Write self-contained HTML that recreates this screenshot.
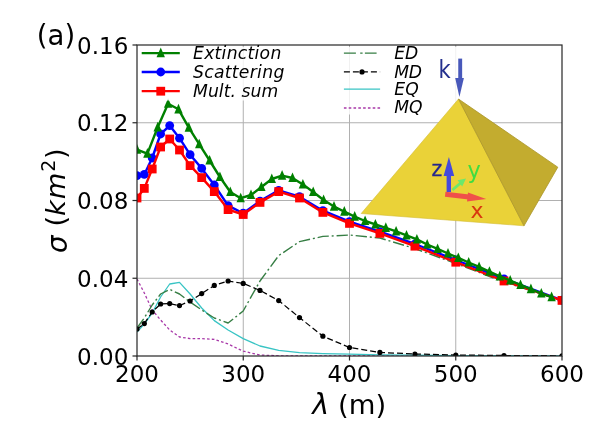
<!DOCTYPE html>
<html lang="en"><head><meta charset="utf-8"><title>Multipole decomposition (a)</title>
<style>html,body{margin:0;padding:0;background:#fff}body{width:600px;height:426px;overflow:hidden}svg{display:block}text{font-family:"DejaVu Sans","Liberation Sans",sans-serif;fill:#000}.i{font-style:italic}</style></head><body>
<svg width="600" height="426" viewBox="0 0 600 426">
<rect width="600" height="426" fill="#fff"/>
<defs><clipPath id="ax"><rect x="137.0" y="45.0" width="425.0" height="311.0"/></clipPath></defs>
<g stroke="#b0b0b0" stroke-width="1.0" fill="none">
<line x1="243.25" y1="45.0" x2="243.25" y2="356.0"/>
<line x1="349.50" y1="45.0" x2="349.50" y2="356.0"/>
<line x1="455.75" y1="45.0" x2="455.75" y2="356.0"/>
<line x1="137.0" y1="278.25" x2="562.0" y2="278.25"/>
<line x1="137.0" y1="200.50" x2="562.0" y2="200.50"/>
<line x1="137.0" y1="122.75" x2="562.0" y2="122.75"/>
</g>
<g clip-path="url(#ax)" fill="none" stroke-linejoin="round">
<polyline points="137.0,279.0 144.3,293.0 152.2,310.0 160.6,320.0 169.7,330.0 179.5,337.0 190.1,338.6 201.7,338.6 214.3,339.4 228.1,344.0 243.2,351.2 260.0,355.0 278.7,355.8 299.5,355.9 322.9,356.0 349.5,356.0 379.9,356.0 414.9,356.0 455.8,356.0 504.0,356.0 562.0,356.0" stroke="#a838a8" stroke-width="1.3" stroke-dasharray="2.6 2.2"/>
<polyline points="137.0,332.0 144.3,324.0 152.2,313.0 160.6,297.0 169.7,284.0 179.5,282.4 190.1,294.0 201.7,308.0 214.3,320.6 228.1,330.0 243.2,338.6 260.0,346.0 278.7,350.4 299.5,352.6 322.9,353.6 349.5,354.2 379.9,354.8 414.9,355.2 455.8,355.6 504.0,355.7 562.0,355.8" stroke="#38c4c4" stroke-width="1.3"/>
<polyline points="137.0,328.0 144.3,318.0 152.2,305.0 160.6,294.0 169.7,289.4 179.5,294.0 190.1,302.0 201.7,310.0 214.3,318.0 228.1,323.0 243.2,311.0 260.0,281.0 278.7,255.6 299.5,241.6 322.9,236.4 349.5,235.0 379.9,238.0 414.9,248.6 455.8,263.5 504.0,282.0 562.0,300.6" stroke="#367e44" stroke-width="1.4" stroke-dasharray="11.3 2.9 2 2.9"/>
<polyline points="137.0,329.0 144.3,323.6 152.2,312.0 160.6,304.0 169.7,303.6 179.5,305.6 190.1,301.0 201.7,293.6 214.3,285.4 228.1,281.0 243.2,283.4 260.0,290.4 278.7,300.6 299.5,317.6 322.9,336.2 349.5,347.5 379.9,352.4 414.9,354.0 455.8,355.0 504.0,355.5 562.0,355.8" stroke="#000" stroke-width="1.25" stroke-dasharray="6 3"/>
<g fill="#000" stroke="none"><circle cx="137.0" cy="329.0" r="2.6"/><circle cx="144.3" cy="323.6" r="2.6"/><circle cx="152.2" cy="312.0" r="2.6"/><circle cx="160.6" cy="304.0" r="2.6"/><circle cx="169.7" cy="303.6" r="2.6"/><circle cx="179.5" cy="305.6" r="2.6"/><circle cx="190.1" cy="301.0" r="2.6"/><circle cx="201.7" cy="293.6" r="2.6"/><circle cx="214.3" cy="285.4" r="2.6"/><circle cx="228.1" cy="281.0" r="2.6"/><circle cx="243.2" cy="283.4" r="2.6"/><circle cx="260.0" cy="290.4" r="2.6"/><circle cx="278.7" cy="300.6" r="2.6"/><circle cx="299.5" cy="317.6" r="2.6"/><circle cx="322.9" cy="336.2" r="2.6"/><circle cx="349.5" cy="347.5" r="2.6"/><circle cx="379.9" cy="352.4" r="2.6"/><circle cx="414.9" cy="354.0" r="2.6"/><circle cx="455.8" cy="355.0" r="2.6"/><circle cx="504.0" cy="355.5" r="2.6"/><circle cx="562.0" cy="355.8" r="2.6"/></g>
<polyline points="137.0,175.6 144.3,174.4 152.2,158.0 160.6,134.0 169.7,125.6 179.5,138.2 190.1,154.7 201.7,168.4 214.3,185.0 228.1,205.6 243.2,213.2 260.0,201.1 278.7,190.3 299.5,196.7 322.9,210.7 349.5,221.7 379.9,231.7 414.9,244.0 455.8,260.0 504.0,278.8 562.0,300.2" stroke="#0000ff" stroke-width="2.4"/>
<g fill="#0000ff" stroke="none"><circle cx="137.0" cy="175.6" r="4.4"/><circle cx="144.3" cy="174.4" r="4.4"/><circle cx="152.2" cy="158.0" r="4.4"/><circle cx="160.6" cy="134.0" r="4.4"/><circle cx="169.7" cy="125.6" r="4.4"/><circle cx="179.5" cy="138.2" r="4.4"/><circle cx="190.1" cy="154.7" r="4.4"/><circle cx="201.7" cy="168.4" r="4.4"/><circle cx="214.3" cy="185.0" r="4.4"/><circle cx="228.1" cy="205.6" r="4.4"/><circle cx="243.2" cy="213.2" r="4.4"/><circle cx="260.0" cy="201.1" r="4.4"/><circle cx="278.7" cy="190.3" r="4.4"/><circle cx="299.5" cy="196.7" r="4.4"/><circle cx="322.9" cy="210.7" r="4.4"/><circle cx="349.5" cy="221.7" r="4.4"/><circle cx="379.9" cy="231.7" r="4.4"/><circle cx="414.9" cy="244.0" r="4.4"/><circle cx="455.8" cy="260.0" r="4.4"/><circle cx="504.0" cy="278.8" r="4.4"/><circle cx="562.0" cy="300.2" r="4.4"/></g>
<polyline points="137.0,198.0 144.3,188.4 152.2,169.0 160.6,147.0 169.7,139.0 179.5,150.0 190.1,165.6 201.7,177.6 214.3,191.6 228.1,209.6 243.2,214.5 260.0,202.4 278.7,191.6 299.5,198.0 322.9,212.4 349.5,223.4 379.9,233.4 414.9,246.2 455.8,262.2 504.0,281.0 562.0,300.4" stroke="#ff0000" stroke-width="2.4"/>
<g fill="#ff0000" stroke="none"><rect x="132.6" y="193.6" width="8.8" height="8.8"/><rect x="139.9" y="184.0" width="8.8" height="8.8"/><rect x="147.8" y="164.6" width="8.8" height="8.8"/><rect x="156.2" y="142.6" width="8.8" height="8.8"/><rect x="165.3" y="134.6" width="8.8" height="8.8"/><rect x="175.1" y="145.6" width="8.8" height="8.8"/><rect x="185.7" y="161.2" width="8.8" height="8.8"/><rect x="197.3" y="173.2" width="8.8" height="8.8"/><rect x="209.9" y="187.2" width="8.8" height="8.8"/><rect x="223.7" y="205.2" width="8.8" height="8.8"/><rect x="238.8" y="210.1" width="8.8" height="8.8"/><rect x="255.6" y="198.0" width="8.8" height="8.8"/><rect x="274.3" y="187.2" width="8.8" height="8.8"/><rect x="295.1" y="193.6" width="8.8" height="8.8"/><rect x="318.5" y="208.0" width="8.8" height="8.8"/><rect x="345.1" y="219.0" width="8.8" height="8.8"/><rect x="375.5" y="229.0" width="8.8" height="8.8"/><rect x="410.5" y="241.8" width="8.8" height="8.8"/><rect x="451.4" y="257.8" width="8.8" height="8.8"/><rect x="499.6" y="276.6" width="8.8" height="8.8"/><rect x="557.6" y="296.0" width="8.8" height="8.8"/></g>
<polyline points="137.0,149.6 147.4,153.6 157.7,127.3 168.1,103.7 178.5,109.3 188.8,127.6 199.2,144.2 209.6,160.5 219.9,177.0 230.3,192.0 240.7,198.2 251.0,195.0 261.4,187.0 271.8,179.0 282.1,175.6 292.5,178.0 302.9,184.4 313.2,192.0 323.6,200.0 334.0,206.6 344.3,211.6 354.7,216.6 365.1,221.0 375.4,224.4 385.8,227.8 396.1,231.4 406.5,235.4 416.9,239.4 427.2,244.5 437.6,248.9 448.0,253.5 458.3,257.9 468.7,262.5 479.1,266.9 489.4,271.7 499.8,276.3 510.2,280.5 520.5,284.9 530.9,289.1 541.3,293.5 551.6,297.1" stroke="#008000" stroke-width="2.4"/>
<g fill="#008000" stroke="none"><path d="M137.0 144.1L141.2 153.7L132.8 153.7Z"/><path d="M147.4 148.1L151.6 157.7L143.2 157.7Z"/><path d="M157.7 121.8L161.9 131.4L153.5 131.4Z"/><path d="M168.1 98.2L172.3 107.8L163.9 107.8Z"/><path d="M178.5 103.8L182.7 113.4L174.3 113.4Z"/><path d="M188.8 122.1L193.0 131.7L184.6 131.7Z"/><path d="M199.2 138.7L203.4 148.3L195.0 148.3Z"/><path d="M209.6 155.0L213.8 164.6L205.4 164.6Z"/><path d="M219.9 171.5L224.1 181.1L215.7 181.1Z"/><path d="M230.3 186.5L234.5 196.1L226.1 196.1Z"/><path d="M240.7 192.7L244.9 202.3L236.5 202.3Z"/><path d="M251.0 189.5L255.2 199.1L246.8 199.1Z"/><path d="M261.4 181.5L265.6 191.1L257.2 191.1Z"/><path d="M271.8 173.5L276.0 183.1L267.6 183.1Z"/><path d="M282.1 170.1L286.3 179.7L277.9 179.7Z"/><path d="M292.5 172.5L296.7 182.1L288.3 182.1Z"/><path d="M302.9 178.9L307.1 188.5L298.7 188.5Z"/><path d="M313.2 186.5L317.4 196.1L309.0 196.1Z"/><path d="M323.6 194.5L327.8 204.1L319.4 204.1Z"/><path d="M334.0 201.1L338.2 210.7L329.8 210.7Z"/><path d="M344.3 206.1L348.5 215.7L340.1 215.7Z"/><path d="M354.7 211.1L358.9 220.7L350.5 220.7Z"/><path d="M365.1 215.5L369.3 225.1L360.9 225.1Z"/><path d="M375.4 218.9L379.6 228.5L371.2 228.5Z"/><path d="M385.8 222.3L390.0 231.9L381.6 231.9Z"/><path d="M396.1 225.9L400.3 235.5L391.9 235.5Z"/><path d="M406.5 229.9L410.7 239.5L402.3 239.5Z"/><path d="M416.9 233.9L421.1 243.5L412.7 243.5Z"/><path d="M427.2 239.0L431.4 248.6L423.0 248.6Z"/><path d="M437.6 243.4L441.8 253.0L433.4 253.0Z"/><path d="M448.0 248.0L452.2 257.6L443.8 257.6Z"/><path d="M458.3 252.4L462.5 262.0L454.1 262.0Z"/><path d="M468.7 257.0L472.9 266.6L464.5 266.6Z"/><path d="M479.1 261.4L483.3 271.0L474.9 271.0Z"/><path d="M489.4 266.2L493.6 275.8L485.2 275.8Z"/><path d="M499.8 270.8L504.0 280.4L495.6 280.4Z"/><path d="M510.2 275.0L514.4 284.6L506.0 284.6Z"/><path d="M520.5 279.4L524.7 289.0L516.3 289.0Z"/><path d="M530.9 283.6L535.1 293.2L526.7 293.2Z"/><path d="M541.3 288.0L545.5 297.6L537.1 297.6Z"/><path d="M551.6 291.6L555.8 301.2L547.4 301.2Z"/></g>
</g>
<rect x="137.0" y="45.0" width="425.0" height="311.0" stroke="#262626" stroke-width="1.2" fill="none"/>
<rect x="138" y="47" width="160" height="53.5" fill="#fff" fill-opacity="0.82"/>
<rect x="338" y="47" width="137" height="67.5" fill="#fff" fill-opacity="0.82"/>
<line x1="141.7" y1="53.1" x2="179.8" y2="53.1" stroke="#008000" stroke-width="2.3"/>
<path d="M160.75 47.6L164.95 57.2L156.55 57.2Z" fill="#008000"/>
<text class="i" x="193.0" y="59.4" font-size="17.2" textLength="88.3" lengthAdjust="spacing">Extinction</text>
<line x1="141.7" y1="72.0" x2="179.8" y2="72.0" stroke="#0000ff" stroke-width="2.3"/>
<circle cx="160.75" cy="72.0" r="4.4" fill="#0000ff"/>
<text class="i" x="193.0" y="78.1" font-size="17.2" textLength="91.3" lengthAdjust="spacing">Scattering</text>
<line x1="141.7" y1="91.2" x2="179.8" y2="91.2" stroke="#ff0000" stroke-width="2.3"/>
<rect x="156.35" y="86.8" width="8.8" height="8.8" fill="#ff0000"/>
<text class="i" x="193.0" y="97.1" font-size="17.2" textLength="85.2" lengthAdjust="spacing">Mult. sum</text>
<line x1="343.9" y1="53.1" x2="380.1" y2="53.1" stroke="#367e44" stroke-width="1.4" stroke-dasharray="12 4.3 2.4 2.3 11.7 100"/>
<text class="i" x="394.3" y="59.3" font-size="17.2" textLength="24.0" lengthAdjust="spacing">ED</text>
<line x1="343.9" y1="71.9" x2="380.1" y2="71.9" stroke="#000" stroke-width="1.25" stroke-dasharray="6 3"/>
<circle cx="362.0" cy="71.9" r="2.6" fill="#000"/>
<text class="i" x="394.3" y="78.1" font-size="17.2" textLength="27.6" lengthAdjust="spacing">MD</text>
<line x1="343.9" y1="89.2" x2="380.1" y2="89.2" stroke="#38c4c4" stroke-width="1.3"/>
<text class="i" x="394.3" y="94.7" font-size="17.2" textLength="24.5" lengthAdjust="spacing">EQ</text>
<line x1="343.9" y1="108.0" x2="380.1" y2="108.0" stroke="#a838a8" stroke-width="1.3" stroke-dasharray="2.6 2.2"/>
<text class="i" x="394.3" y="113.2" font-size="17.2" textLength="28.3" lengthAdjust="spacing">MQ</text>
<g>
<path d="M458.5 99L361.2 213.5L524 225.8Z" fill="#ead238" stroke="#d4bc34" stroke-width="0.6" stroke-linejoin="round"/>
<path d="M458.5 99L524 225.8L557.8 167.2Z" fill="#c3ac2f" stroke="#ab962a" stroke-width="0.8" stroke-linejoin="round"/>
<path d="M460.2 58.6v20.4" stroke="#4858ba" stroke-width="3.9" fill="none"/>
<path d="M455.2 78h8.7L459.4 97Z" fill="#4858ba"/>
<text transform="translate(438.6 77.8) scale(1 1.14)" font-size="21" style="fill:#24308e">k</text>
<path d="M448.8 192V174.5" stroke="#4549dc" stroke-width="4.4" fill="none"/>
<path d="M443.6 176h10.6L448.9 157Z" fill="#4549dc"/>
<path d="M445.2 194.3L469 197" stroke="#f0504a" stroke-width="5" fill="none"/>
<path d="M468 192.6L486.2 199L467 201.4Z" fill="#f0504a"/>
<path d="M452.4 190L461.5 182.3" stroke="#6ce86c" stroke-width="2.8" fill="none"/>
<path d="M457.6 180.3L466 178.4L462.2 186.6Z" fill="#6ce86c"/>
<text x="431.5" y="176.2" font-size="20.5" style="fill:#26288c;stroke:#26288c;stroke-width:0.3">z</text>
<text x="470.4" y="217.6" font-size="22" style="fill:#d8380f">x</text>
<text x="467.4" y="177.6" font-size="22.5" style="fill:#40dc40">y</text>
</g>

<g stroke="#262626" stroke-width="1.2" fill="none">
<line x1="137.00" y1="356.0" x2="137.00" y2="360.5"/>
<line x1="243.25" y1="356.0" x2="243.25" y2="360.5"/>
<line x1="349.50" y1="356.0" x2="349.50" y2="360.5"/>
<line x1="455.75" y1="356.0" x2="455.75" y2="360.5"/>
<line x1="562.00" y1="356.0" x2="562.00" y2="360.5"/>
<line x1="137.0" y1="356.00" x2="132.5" y2="356.00"/>
<line x1="137.0" y1="278.25" x2="132.5" y2="278.25"/>
<line x1="137.0" y1="200.50" x2="132.5" y2="200.50"/>
<line x1="137.0" y1="122.75" x2="132.5" y2="122.75"/>
<line x1="137.0" y1="45.00" x2="132.5" y2="45.00"/>
</g>
<g font-size="23">
<text x="137.00" y="382.4" text-anchor="middle">200</text>
<text x="243.25" y="382.4" text-anchor="middle">300</text>
<text x="349.50" y="382.4" text-anchor="middle">400</text>
<text x="455.75" y="382.4" text-anchor="middle">500</text>
<text x="562.00" y="382.4" text-anchor="middle">600</text>
<text x="128.3" y="364.70" text-anchor="end">0.00</text>
<text x="128.3" y="286.95" text-anchor="end">0.04</text>
<text x="128.3" y="209.20" text-anchor="end">0.08</text>
<text x="128.3" y="131.45" text-anchor="end">0.12</text>
<text x="128.3" y="53.70" text-anchor="end">0.16</text>
</g>
<text x="312.2" y="413.6" font-size="27.4"><tspan class="i" font-size="28.6">λ</tspan><tspan dx="0.2"> (m)</tspan></text>
<text transform="translate(65.4 253.1) rotate(-90)" font-size="27.4"><tspan class="i" font-size="27.6" dy="1.1">σ</tspan><tspan dx="0.3" dy="-1.1"> (</tspan><tspan class="i" letter-spacing="0.8">km</tspan><tspan font-size="19" dy="-10.3">2</tspan><tspan dy="10.3" dx="0.6">)</tspan></text>
<text x="36.8" y="44.6" font-size="27.5">(a)</text>
</svg></body></html>
